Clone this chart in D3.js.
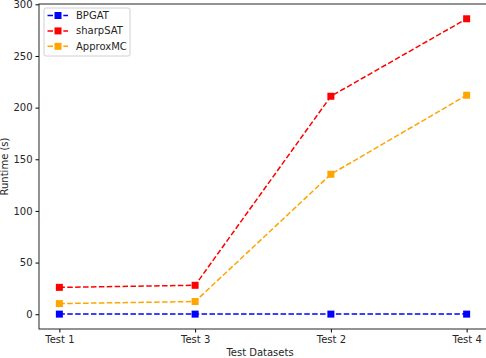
<!DOCTYPE html>
<html>
<head>
<meta charset="utf-8">
<script src="https://cdn.jsdelivr.net/npm/d3@7"></script>
<style>
  body { margin: 0; background: #fff; }
  text { font-family: "DejaVu Sans", sans-serif; }
</style>
</head>
<body>
<div id="chart"></div>
<script>
var W = 486, H = 358;
var margins = {top: 4, right: -1, bottom: 29, left: 39},
    width = W - margins.left - margins.right,
    height = H - margins.top - margins.bottom;

// data
const datasets = ["Test 1", "Test 3", "Test 2", "Test 4"];
const bpgat = [0.1, 0.1, 0.1, 0.1];
const sharpSAT = [26, 28, 211, 286];
const approxMC = [10.3, 12.3, 135.5, 212];
const yTicks = [0, 50, 100, 150, 200, 250, 300];

const series = [
  {name: "BPGAT", color: "#0000ff", values: bpgat},
  {name: "sharpSAT", color: "#ff0000", values: sharpSAT},
  {name: "ApproxMC", color: "#ffa500", values: approxMC}
];

var svg = d3.select("#chart").append("svg")
  .attr("width", W)
  .attr("height", H);

var g = svg.append("g")
  .attr("transform", "translate(" + margins.left + "," + margins.top + ")");

// categorical x with matplotlib-like 5% margin
const x = d3.scalePoint()
  .domain(datasets)
  .range([width * 0.15 / 3.3, width - width * 0.15 / 3.3]);

const y = d3.scaleLinear()
  .domain([-14.3, 300.3])
  .range([height, 0]);

var line = d3.line()
  .x((d, i) => x(datasets[i]))
  .y(d => y(d));

series.forEach(function(s) {
  g.append("path")
    .datum(s.values)
    .attr("fill", "none")
    .attr("stroke", s.color)
    .attr("stroke-width", 1.5)
    .attr("stroke-dasharray", "5.5 2.4")
    .attr("d", line);

  g.selectAll(".m-" + s.name)
    .data(s.values)
    .enter().append("rect")
    .attr("x", (d, i) => x(datasets[i]) - 3.5)
    .attr("y", d => y(d) - 3.5)
    .attr("width", 7)
    .attr("height", 7)
    .attr("fill", s.color);
});

// axes
const xAxis = d3.axisBottom(x).tickSize(3.5).tickPadding(3.5);
const yAxis = d3.axisLeft(y).tickValues(yTicks).tickSize(3.5).tickPadding(3);

g.append("g")
  .attr("transform", "translate(0," + height + ")")
  .call(xAxis)
  .call(a => a.select(".domain").remove())
  .selectAll("text").style("font-size", "10px").attr("fill", "#262626");

g.append("g")
  .call(yAxis)
  .call(a => a.select(".domain").remove())
  .selectAll("text").style("font-size", "10px").attr("fill", "#262626");

// frame
g.append("rect")
  .attr("x", 0).attr("y", 0)
  .attr("width", width).attr("height", height)
  .attr("fill", "none")
  .attr("stroke", "#262626")
  .attr("stroke-width", 1);

// axis labels
g.append("text")
  .attr("x", width / 2 - 3)
  .attr("y", height + 27)
  .attr("text-anchor", "middle")
  .style("font-size", "10px")
  .attr("fill", "#262626")
  .text("Test Datasets");

svg.append("text")
  .attr("transform", "translate(8," + (margins.top + height / 2) + ") rotate(-90)")
  .attr("text-anchor", "middle")
  .style("font-size", "10px")
  .attr("fill", "#262626")
  .text("Runtime (s)");

// legend
var legend = g.append("g").attr("transform", "translate(5,4)");
legend.append("rect")
  .attr("width", 86).attr("height", 48)
  .attr("rx", 2)
  .attr("fill", "#fff")
  .attr("fill-opacity", 0.8)
  .attr("stroke", "#d0d0d0");

series.forEach(function(s, i) {
  var ly = 7.5 + i * 15.4;
  legend.append("line")
    .attr("x1", 3.5).attr("x2", 24)
    .attr("y1", ly).attr("y2", ly)
    .attr("stroke", s.color)
    .attr("stroke-width", 1.5)
    .attr("stroke-dasharray", "5.5 2.4");
  legend.append("rect")
    .attr("x", 14 - 3.5).attr("y", ly - 3.5)
    .attr("width", 7).attr("height", 7)
    .attr("fill", s.color);
  legend.append("text")
    .attr("x", 32).attr("y", ly)
    .attr("dy", "0.35em")
    .style("font-size", "10px")
    .attr("fill", "#262626")
    .text(s.name);
});
</script>
</body>
</html>
